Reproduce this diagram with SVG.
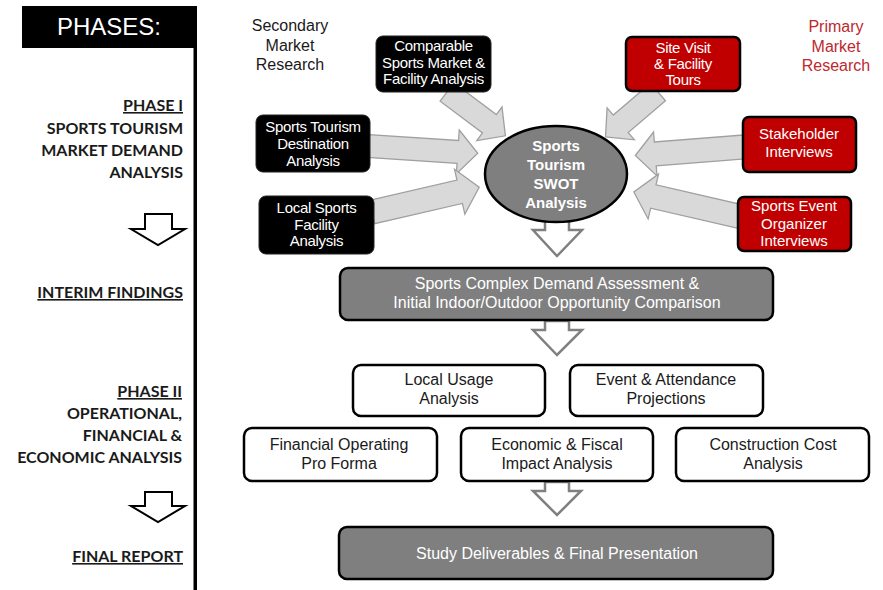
<svg xmlns="http://www.w3.org/2000/svg" width="883" height="590" viewBox="0 0 883 590">
<style>
.bg{fill:#fff}
.t{font-family:"Liberation Sans",Arial,sans-serif;text-anchor:middle}
.w{fill:#fff}
.k{fill:#1a1a1a}
.red{fill:#c0282d}
.ph{font-family:Lato,"Open Sans",sans-serif;font-weight:bold;font-size:16px;fill:#1a1a1a;text-anchor:end}
.u{text-decoration:underline}
.blk{fill:#000;stroke:#222;stroke-width:1}
.rbox{fill:#c00000;stroke:#000;stroke-width:2.5}
.gbox{fill:#7f7f7f;stroke:#000;stroke-width:2.5}
.wbox{fill:#fff;stroke:#000;stroke-width:2.5}
.ba{fill:#d9d9d9;stroke:#a0a0a0;stroke-width:1.3}
.da{fill:#fff;stroke:#808080;stroke-width:2.5;stroke-linejoin:miter}
.la{fill:#fff;stroke:#000;stroke-width:2}
</style>
<rect class="bg" x="0" y="0" width="883" height="590"/>

<g id="phases-panel">
<rect x="22" y="6" width="175" height="42" fill="#000"/>
<text x="109" y="35" class="t w" font-size="24">PHASES:</text>
<rect x="193.5" y="46" width="3.5" height="544" fill="#000"/>
<text class="ph u" x="183" y="111">PHASE I</text>
<text class="ph" x="183" y="134">SPORTS TOURISM</text>
<text class="ph" x="183" y="156">MARKET DEMAND</text>
<text class="ph" x="183" y="178">ANALYSIS</text>
<polygon class="la" points="145,214 172,214 172,229 185,229 158,245 131,229 145,229"/>
<text class="ph u" x="183" y="298">INTERIM FINDINGS</text>
<text class="ph u" x="182" y="397">PHASE II</text>
<text class="ph" x="182" y="419">OPERATIONAL,</text>
<text class="ph" x="182" y="441">FINANCIAL &amp;</text>
<text class="ph" x="182" y="463">ECONOMIC ANALYSIS</text>
<polygon class="la" points="145,492 172,492 172,506 185,506 158,522 131,506 145,506"/>
<text class="ph u" x="183" y="562">FINAL REPORT</text>
</g>

<g id="label-secondary">
<text class="t k" font-size="16"><tspan x="290" y="31">Secondary</tspan><tspan x="290" y="51">Market</tspan><tspan x="290" y="70">Research</tspan></text>
</g>
<g id="label-primary">
<text class="t red" font-size="16"><tspan x="836" y="32">Primary</tspan><tspan x="836" y="52">Market</tspan><tspan x="836" y="71">Research</tspan></text>
</g>

<g id="connectors">
<polygon class="ba" transform="translate(447,92) rotate(36.87)" points="0,-11.5 53,-11.5 53,-21 73,0 53,21 53,11.5 0,11.5"/>
<polygon class="ba" transform="translate(658,92) rotate(139.5)" points="0,-11.5 49,-11.5 49,-21 69,0 49,21 49,11.5 0,11.5"/>
<polygon class="ba" transform="translate(368,146) rotate(3.8)" points="0,-11.5 90,-11.5 90,-22 110,0 90,22 90,11.5 0,11.5"/>
<polygon class="ba" transform="translate(372,212) rotate(-13)" points="0,-12 90,-12 90,-23 110,0 90,23 90,12 0,12"/>
<polygon class="ba" transform="translate(744,147) rotate(175.5)" points="0,-12 89,-12 89,-22 109,0 89,22 89,12 0,12"/>
<polygon class="ba" transform="translate(742,217) rotate(193)" points="0,-12 91,-12 91,-23 111,0 91,23 91,12 0,12"/>
<polygon class="da" points="545,212 569,212 569,230 582,230 557,256 533,230 545,230"/>
<polygon class="da" points="545,321 569,321 569,330 582,330 557,355 533,330 545,330"/>
<polygon class="da" points="545,482 569,482 569,491 581,491 557,515 533,491 545,491"/>
</g>

<g id="node-comparable">
<rect class="blk" x="376" y="36" width="115" height="56" rx="7"/>
<text class="t w" font-size="15" letter-spacing="-0.3"><tspan x="433.5" y="51">Comparable</tspan><tspan x="433.5" y="67.5">Sports Market &amp;</tspan><tspan x="433.5" y="84">Facility Analysis</tspan></text>
</g>
<g id="node-destination">
<rect class="blk" x="256" y="115" width="114" height="57" rx="7"/>
<text class="t w" font-size="15" letter-spacing="-0.3"><tspan x="313" y="132">Sports Tourism</tspan><tspan x="313" y="149">Destination</tspan><tspan x="313" y="166">Analysis</tspan></text>
</g>
<g id="node-local-facility">
<rect class="blk" x="259" y="196" width="115" height="58" rx="7"/>
<text class="t w" font-size="15" letter-spacing="-0.3"><tspan x="316.5" y="213">Local Sports</tspan><tspan x="316.5" y="230">Facility</tspan><tspan x="316.5" y="246">Analysis</tspan></text>
</g>
<g id="node-site-visit">
<rect class="rbox" x="626" y="37" width="114" height="54" rx="6"/>
<text class="t w" font-size="15" letter-spacing="-0.3"><tspan x="683" y="53">Site Visit</tspan><tspan x="683" y="69">&amp; Facility</tspan><tspan x="683" y="85">Tours</tspan></text>
</g>
<g id="node-stakeholder">
<rect class="rbox" x="743" y="117" width="113" height="55" rx="6"/>
<text class="t w" font-size="15"><tspan x="799" y="139">Stakeholder</tspan><tspan x="799" y="157">Interviews</tspan></text>
</g>
<g id="node-event-organizer">
<rect class="rbox" x="738" y="197" width="113" height="54" rx="6"/>
<text class="t w" font-size="15"><tspan x="794" y="211">Sports Event</tspan><tspan x="794" y="228.5">Organizer</tspan><tspan x="794" y="246">Interviews</tspan></text>
</g>
<g id="node-swot">
<ellipse class="gbox" cx="556" cy="174" rx="71" ry="48"/>
<text class="t w" font-size="15" font-weight="bold"><tspan x="556" y="151">Sports</tspan><tspan x="556" y="170">Tourism</tspan><tspan x="556" y="189">SWOT</tspan><tspan x="556" y="208">Analysis</tspan></text>
</g>
<g id="node-demand">
<rect class="gbox" x="340" y="268" width="433" height="52" rx="8"/>
<text class="t w" font-size="16"><tspan x="557" y="289">Sports Complex Demand Assessment &amp;</tspan><tspan x="557" y="308">Initial Indoor/Outdoor Opportunity Comparison</tspan></text>
</g>
<g id="node-local-usage">
<rect class="wbox" x="353" y="365" width="192" height="51" rx="8"/>
<text class="t k" font-size="16"><tspan x="449" y="385">Local Usage</tspan><tspan x="449" y="404">Analysis</tspan></text>
</g>
<g id="node-event-attendance">
<rect class="wbox" x="570" y="365" width="193" height="51" rx="8"/>
<text class="t k" font-size="16"><tspan x="666" y="385">Event &amp; Attendance</tspan><tspan x="666" y="404">Projections</tspan></text>
</g>
<g id="node-pro-forma">
<rect class="wbox" x="244" y="428" width="193" height="53" rx="8"/>
<text class="t k" font-size="16"><tspan x="339" y="450">Financial Operating</tspan><tspan x="339" y="469">Pro Forma</tspan></text>
</g>
<g id="node-economic">
<rect class="wbox" x="461" y="428" width="192" height="53" rx="8"/>
<text class="t k" font-size="16"><tspan x="557" y="450">Economic &amp; Fiscal</tspan><tspan x="557" y="469">Impact Analysis</tspan></text>
</g>
<g id="node-construction">
<rect class="wbox" x="676" y="428" width="193" height="53" rx="8"/>
<text class="t k" font-size="16"><tspan x="773" y="450">Construction Cost</tspan><tspan x="773" y="469">Analysis</tspan></text>
</g>
<g id="node-final">
<rect class="gbox" x="339" y="527" width="434" height="52" rx="8"/>
<text class="t w" font-size="16" x="557" y="559">Study Deliverables &amp; Final Presentation</text>
</g>
</svg>
